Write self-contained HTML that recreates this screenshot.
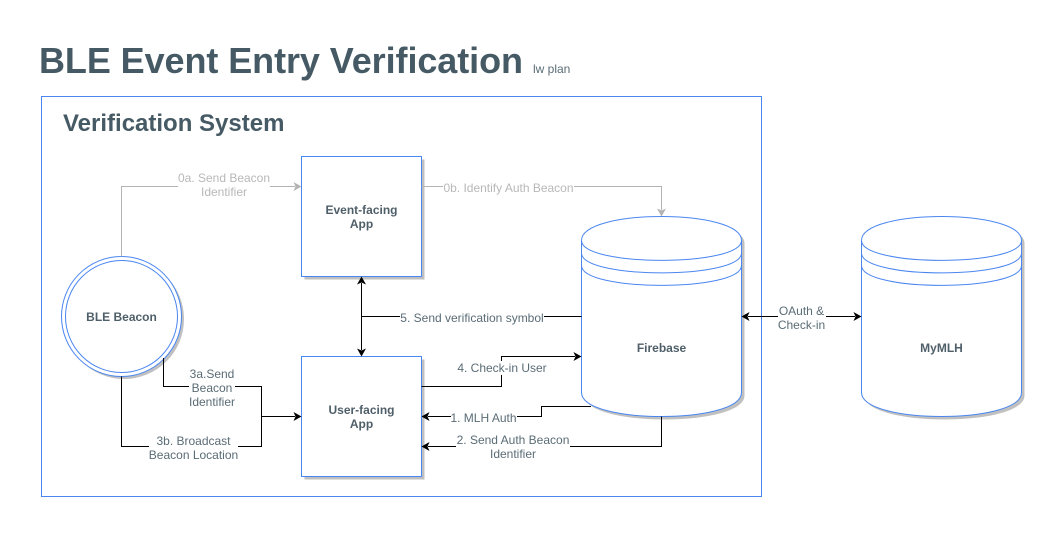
<!DOCTYPE html>
<html>
<head>
<meta charset="utf-8">
<style>
html,body{margin:0;padding:0;background:#fff;width:1060px;height:533px;overflow:hidden}
svg{display:block}
text{font-family:"Liberation Sans",Helvetica,Arial,sans-serif}
.l{font-size:12px;fill:#5a6c76;text-anchor:middle}
.g{font-size:12px;fill:#b8b8b8;text-anchor:middle}
.b{font-size:12px;font-weight:bold;fill:#4f5f69;text-anchor:middle}
.k{fill:none;stroke:#000;stroke-width:1}
.y{fill:none;stroke:#b3b3b3;stroke-width:1}
.s{fill:none;stroke:#4a86f0;stroke-width:1}
.f{fill:#fff;stroke:#4a86f0;stroke-width:1}
.sh{fill:#c0c0c0}
</style>
</head>
<body>
<svg width="1060" height="533" viewBox="0 0 1060 533" xmlns="http://www.w3.org/2000/svg">
<rect width="1060" height="533" fill="#fff"/>

<text x="39" y="73" font-size="36" font-weight="bold" fill="#455a64" textLength="484">BLE Event Entry Verification</text>
<text x="533" y="73" font-size="12" fill="#5a6c76">lw plan</text>
<rect x="41.5" y="96.5" width="720" height="400" class="f"/>
<text x="63" y="131" font-size="24" font-weight="bold" fill="#455a64">Verification System</text>

<!-- shadows -->
<rect x="304.5" y="159.5" width="120" height="120" class="sh"/>
<rect x="304.5" y="359.5" width="120" height="120" class="sh"/>
<circle cx="124" cy="319" r="60" class="sh"/>
<path class="sh" d="M584.5 243.5C584.5 211.5 744.5 211.5 744.5 243.5L744.5 395.5C744.5 427.5 584.5 427.5 584.5 395.5Z"/>
<path class="sh" d="M864.5 243.5C864.5 211.5 1024.5 211.5 1024.5 243.5L1024.5 395.5C1024.5 427.5 864.5 427.5 864.5 395.5Z"/>

<!-- nodes -->
<rect x="301.5" y="156.5" width="120" height="120" class="f"/>
<rect x="301.5" y="356.5" width="120" height="120" class="f"/>
<circle cx="121.5" cy="316.5" r="60" class="f"/>
<circle cx="121.5" cy="316.5" r="56" class="s"/>

<path class="f" d="M581.5 240.5C581.5 208.5 741.5 208.5 741.5 240.5L741.5 392.5C741.5 424.5 581.5 424.5 581.5 392.5Z"/>
<path class="s" d="M581.5 240.5C581.5 267 741.5 267 741.5 240.5M581.5 253C581.5 279.5 741.5 279.5 741.5 253M581.5 265.5C581.5 292 741.5 292 741.5 265.5"/>
<path class="f" d="M861.5 240.5C861.5 208.5 1021.5 208.5 1021.5 240.5L1021.5 392.5C1021.5 424.5 861.5 424.5 861.5 392.5Z"/>
<path class="s" d="M861.5 240.5C861.5 267 1021.5 267 1021.5 240.5M861.5 253C861.5 279.5 1021.5 279.5 1021.5 253M861.5 265.5C861.5 292 1021.5 292 1021.5 265.5"/>

<text class="b" x="361.5" y="214">Event-facing</text>
<text class="b" x="361.5" y="228">App</text>
<text class="b" x="361.5" y="414">User-facing</text>
<text class="b" x="361.5" y="428">App</text>
<text class="b" x="121.5" y="321">BLE Beacon</text>
<text class="b" x="661.5" y="352">Firebase</text>
<text class="b" x="941.5" y="352">MyMLH</text>

<!-- grey connectors -->
<path class="y" d="M121.5 256.5V186.5H295"/>
<path fill="#b3b3b3" d="M301.5 186.5L293.5 191L295.5 186.5L293.5 182Z"/>
<path class="y" d="M421.5 186.5H661.5V210"/>
<path fill="#b3b3b3" d="M661.5 216.5L657 208.5L661.5 210.5L666 208.5Z"/>

<!-- black connectors -->
<path class="k" d="M361.5 283V350M581.5 316.5H361.5"/>
<path d="M361.5 276.5L366 284.5L361.5 282.5L357 284.5Z"/>
<path d="M361.5 356.5L357 348.5L361.5 350.5L366 348.5Z"/>

<path class="k" d="M421.5 386.5H501.5V356.5H575"/>
<path d="M581.5 356.5L573.5 361L575.5 356.5L573.5 352Z"/>

<path class="k" d="M591 406.5H541.5V416.5H428"/>
<path d="M421.5 416.5L429.5 412L427.5 416.5L429.5 421Z"/>

<path class="k" d="M661.5 416.5V446.5H428"/>
<path d="M421.5 446.5L429.5 442L427.5 446.5L429.5 451Z"/>

<path class="k" d="M748 316.5H855"/>
<path d="M741.5 316.5L749.5 312L747.5 316.5L749.5 321Z"/>
<path d="M861.5 316.5L853.5 321L855.5 316.5L853.5 312Z"/>

<path class="k" d="M163.5 358V386.5H261.5V446.5H121.5V376.5M261.5 416.5H295"/>
<path d="M301.5 416.5L293.5 421L295.5 416.5L293.5 412Z"/>

<!-- labels -->
<rect x="178" y="171" width="92" height="28" fill="#fff"/>
<text class="g" x="224" y="182">0a. Send Beacon</text>
<text class="g" x="224" y="196">Identifier</text>

<rect x="443" y="180" width="131" height="14" fill="#fff"/>
<text class="g" x="508.5" y="192">0b. Identify Auth Beacon</text>

<rect x="400" y="311" width="144" height="14" fill="#fff"/>
<text class="l" x="472" y="322">5. Send verification symbol</text>

<rect x="457" y="361" width="90" height="14" fill="#fff"/>
<text class="l" x="502" y="372">4. Check-in User</text>

<rect x="451" y="411" width="66" height="14" fill="#fff"/>
<text class="l" x="483.5" y="422">1. MLH Auth</text>

<rect x="456" y="433" width="114" height="28" fill="#fff"/>
<text class="l" x="513" y="444">2. Send Auth Beacon</text>
<text class="l" x="513" y="458">Identifier</text>

<rect x="778" y="304" width="48" height="28" fill="#fff"/>
<text class="l" x="801.5" y="315">OAuth &amp;</text>
<text class="l" x="801.5" y="329">Check-in</text>

<rect x="189" y="367" width="46" height="42" fill="#fff"/>
<text class="l" x="212" y="378">3a.Send</text>
<text class="l" x="212" y="392">Beacon</text>
<text class="l" x="212" y="406">Identifier</text>

<rect x="149" y="434" width="89" height="28" fill="#fff"/>
<text class="l" x="193.5" y="445">3b. Broadcast</text>
<text class="l" x="193.5" y="459">Beacon Location</text>
</svg>
</body>
</html>
